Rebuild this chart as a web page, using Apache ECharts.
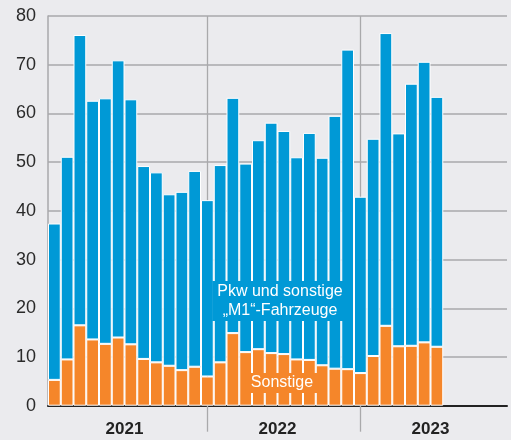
<!DOCTYPE html>
<html>
<head>
<meta charset="utf-8">
<script src="https://cdn.jsdelivr.net/npm/echarts@6/dist/echarts.min.js"></script>
<style>
html,body{margin:0;padding:0;background:#ebebee;}
#chart{width:511px;height:440px;}
</style>
</head>
<body>
<div id="chart"></div>
<script>
// Monthly categories Jan 2021 .. Dec 2023
const months = [
  '2021-01','2021-02','2021-03','2021-04','2021-05','2021-06','2021-07','2021-08','2021-09','2021-10','2021-11','2021-12',
  '2022-01','2022-02','2022-03','2022-04','2022-05','2022-06','2022-07','2022-08','2022-09','2022-10','2022-11','2022-12',
  '2023-01','2023-02','2023-03','2023-04','2023-05','2023-06','2023-07','2023-08','2023-09','2023-10','2023-11','2023-12'
];
const years = ['2021', '2022', '2023'];
// "Sonstige" (orange, bottom)
const sonstige = [5.3, 9.5, 16.5, 13.6, 12.7, 14.0, 12.6, 9.6, 8.9, 8.2, 7.3, 8.0,
                  6.0, 8.9, 14.9, 11.0, 11.6, 10.8, 10.6, 9.5, 9.4, 8.3, 7.6, 7.5,
                  6.7, 10.2, 16.4, 12.2, 12.3, 13.0, 12.1];
// "Pkw und sonstige M1-Fahrzeuge" (blue, stacked on top)
const pkwM1 = [32.1, 41.6, 59.6, 49.0, 50.4, 56.9, 50.3, 39.6, 39.0, 35.2, 36.6, 40.2,
               36.2, 40.5, 48.3, 38.7, 42.9, 47.3, 45.8, 41.5, 46.6, 42.6, 51.9, 65.6,
               36.2, 44.6, 60.1, 43.7, 53.8, 57.6, 51.3];
const yTicks = {min: 0, max: 80, interval: 10};

const chart = echarts.init(document.getElementById('chart'), null, {renderer: 'canvas'});
const gridGray = '#a9a9ab';
const font = '"Liberation Sans", Arial, sans-serif';
const yearStartIdx = [12, 24];

chart.setOption({
  backgroundColor: '#ebebee',
  animation: false,
  grid: {left: 48, right: 4, top: 16, bottom: 34.3, containLabel: false},
  xAxis: [{
    type: 'category',
    data: months,
    boundaryGap: true,
    axisLine: {show: true, onZero: false, lineStyle: {color: '#222', width: 2}},
    axisTick: {show: true, alignWithLabel: true, length: 26,
      interval: (i) => yearStartIdx.indexOf(i) >= 0,
      lineStyle: {color: gridGray, width: 1.3}},
    axisLabel: {show: false},
    splitLine: {show: true, alignWithLabel: true,
      interval: (i) => yearStartIdx.indexOf(i) >= 0,
      lineStyle: {color: gridGray, width: 1.3}}
  }, {
    type: 'category',
    data: years,
    position: 'bottom',
    boundaryGap: true,
    axisLine: {show: false},
    axisTick: {show: false},
    splitLine: {show: false},
    axisLabel: {show: true, margin: 15, fontSize: 17, fontWeight: 'bold', color: '#222', fontFamily: font}
  }],
  yAxis: {
    type: 'value',
    min: yTicks.min, max: yTicks.max, interval: yTicks.interval,
    axisLine: {show: true, lineStyle: {color: gridGray, width: 1.5}},
    axisTick: {show: false},
    axisLabel: {margin: 12, fontSize: 18, color: '#2a2a2a', fontFamily: font},
    splitLine: {show: true, lineStyle: {color: gridGray, width: 1.5}}
  },
  series: [{
    name: 'Sonstige',
    type: 'bar',
    stack: 'total',
    data: sonstige,
    barCategoryGap: '0%',
    itemStyle: {color: '#f5862a', borderColor: '#ffffff', borderWidth: 1}
  }, {
    name: 'Pkw und sonstige „M1“-Fahrzeuge',
    type: 'bar',
    stack: 'total',
    data: pkwM1,
    barCategoryGap: '0%',
    itemStyle: {color: '#0099d6', borderColor: '#ffffff', borderWidth: 1}
  }],
  graphic: [{
    type: 'text',
    z: 100,
    style: {
      text: 'Pkw und sonstige\n„M1“-Fahrzeuge',
      x: 280, y: 301,
      align: 'center', verticalAlign: 'middle',
      fontSize: 16, lineHeight: 19, fontFamily: font,
      fill: '#ffffff',
      backgroundColor: '#0099d6',
      padding: [1, 5]
    }
  }, {
    type: 'text',
    z: 100,
    style: {
      text: 'Sonstige',
      x: 282, y: 383,
      align: 'center', verticalAlign: 'middle',
      fontSize: 16, lineHeight: 18, fontFamily: font,
      fill: '#ffffff',
      backgroundColor: '#f5862a',
      padding: [1, 5]
    }
  }]
});
</script>
</body>
</html>
